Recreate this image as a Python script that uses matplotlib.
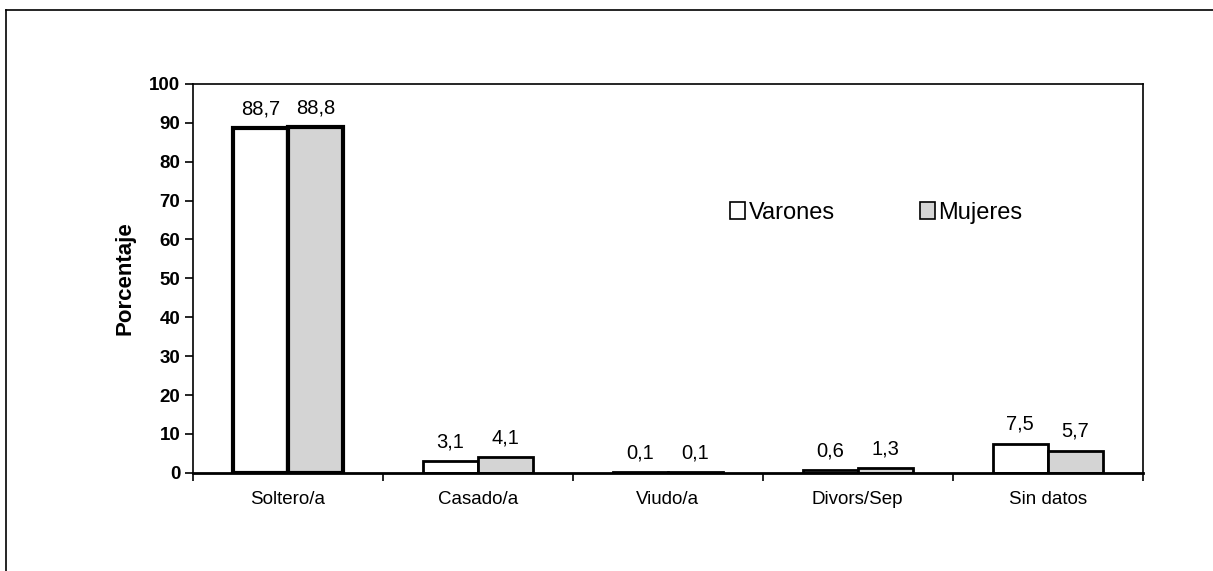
import matplotlib.pyplot as plt
from matplotlib.lines import Line2D
import numpy as np

plt.rcParams['font.family'] = ['Liberation Sans', 'DejaVu Sans']

# Data
categorias = ['Soltero/a', 'Casado/a', 'Viudo/a', 'Divors/Sep', 'Sin datos']
varones = [88.7, 3.1, 0.1, 0.6, 7.5]
mujeres = [88.8, 4.1, 0.1, 1.3, 5.7]
series = ['Varones', 'Mujeres']

fig = plt.figure(figsize=(12.13, 5.71), dpi=100)
ax = fig.add_axes([0.159, 0.172, 0.783, 0.681])

x = np.arange(len(categorias))
w = 0.29

# Soltero bars have heavier outline in the reference
lw = [3 if i == 0 else 2 for i in range(len(categorias))]
b1 = ax.bar(x - w / 2, varones, w, color='white', edgecolor='black',
            linewidth=lw, label=series[0])
b2 = ax.bar(x + w / 2, mujeres, w, color='#d4d4d4', edgecolor='black',
            linewidth=lw, label=series[1])

# Value labels with comma decimals
for bars, vals in ((b1, varones), (b2, mujeres)):
    for rect, v in zip(bars, vals):
        ax.annotate(f'{v:.1f}'.replace('.', ','),
                    (rect.get_x() + rect.get_width() / 2, v),
                    xytext=(0, 7), textcoords='offset points',
                    ha='center', va='bottom', fontsize=14.5)

# Axes
ax.set_ylim(0, 100)
ax.set_yticks(range(0, 101, 10))
ax.set_xlim(-0.5, len(categorias) - 0.5)
ax.set_xticks(x)
ax.set_xticklabels(categorias, fontsize=13.5)
ax.set_xticks(np.arange(-0.5, len(categorias), 1), minor=True)
ax.tick_params(axis='x', which='major', length=0, pad=13)
ax.tick_params(axis='x', which='minor', length=6, width=1.2, direction='out')
ax.tick_params(axis='y', length=6, width=1.2, direction='out', labelsize=13.5, pad=3)
for t in ax.get_yticklabels():
    t.set_fontweight('bold')
ax.set_ylabel('Porcentaje', fontsize=16, fontweight='bold', labelpad=10)

for s in ax.spines.values():
    s.set_linewidth(1.2)
ax.spines['bottom'].set_linewidth(2)

# Legend
leg = ax.legend(loc='center left', bbox_to_anchor=(0.584, 0.627),
                bbox_transform=fig.transFigure, ncol=2, frameon=False,
                fontsize=17, handlelength=0.65, handleheight=0.75,
                handletextpad=0.15, columnspacing=3.6)
for h in leg.legend_handles:
    h.set_linewidth(1.2)

# Outer frame (left and top edges of scanned figure)
fig.add_artist(Line2D([0.005, 0.005], [0.0, 0.983], color='black', lw=1.2))
fig.add_artist(Line2D([0.005, 1.0], [0.983, 0.983], color='black', lw=1.2))

fig.savefig('out.png', dpi=100)
